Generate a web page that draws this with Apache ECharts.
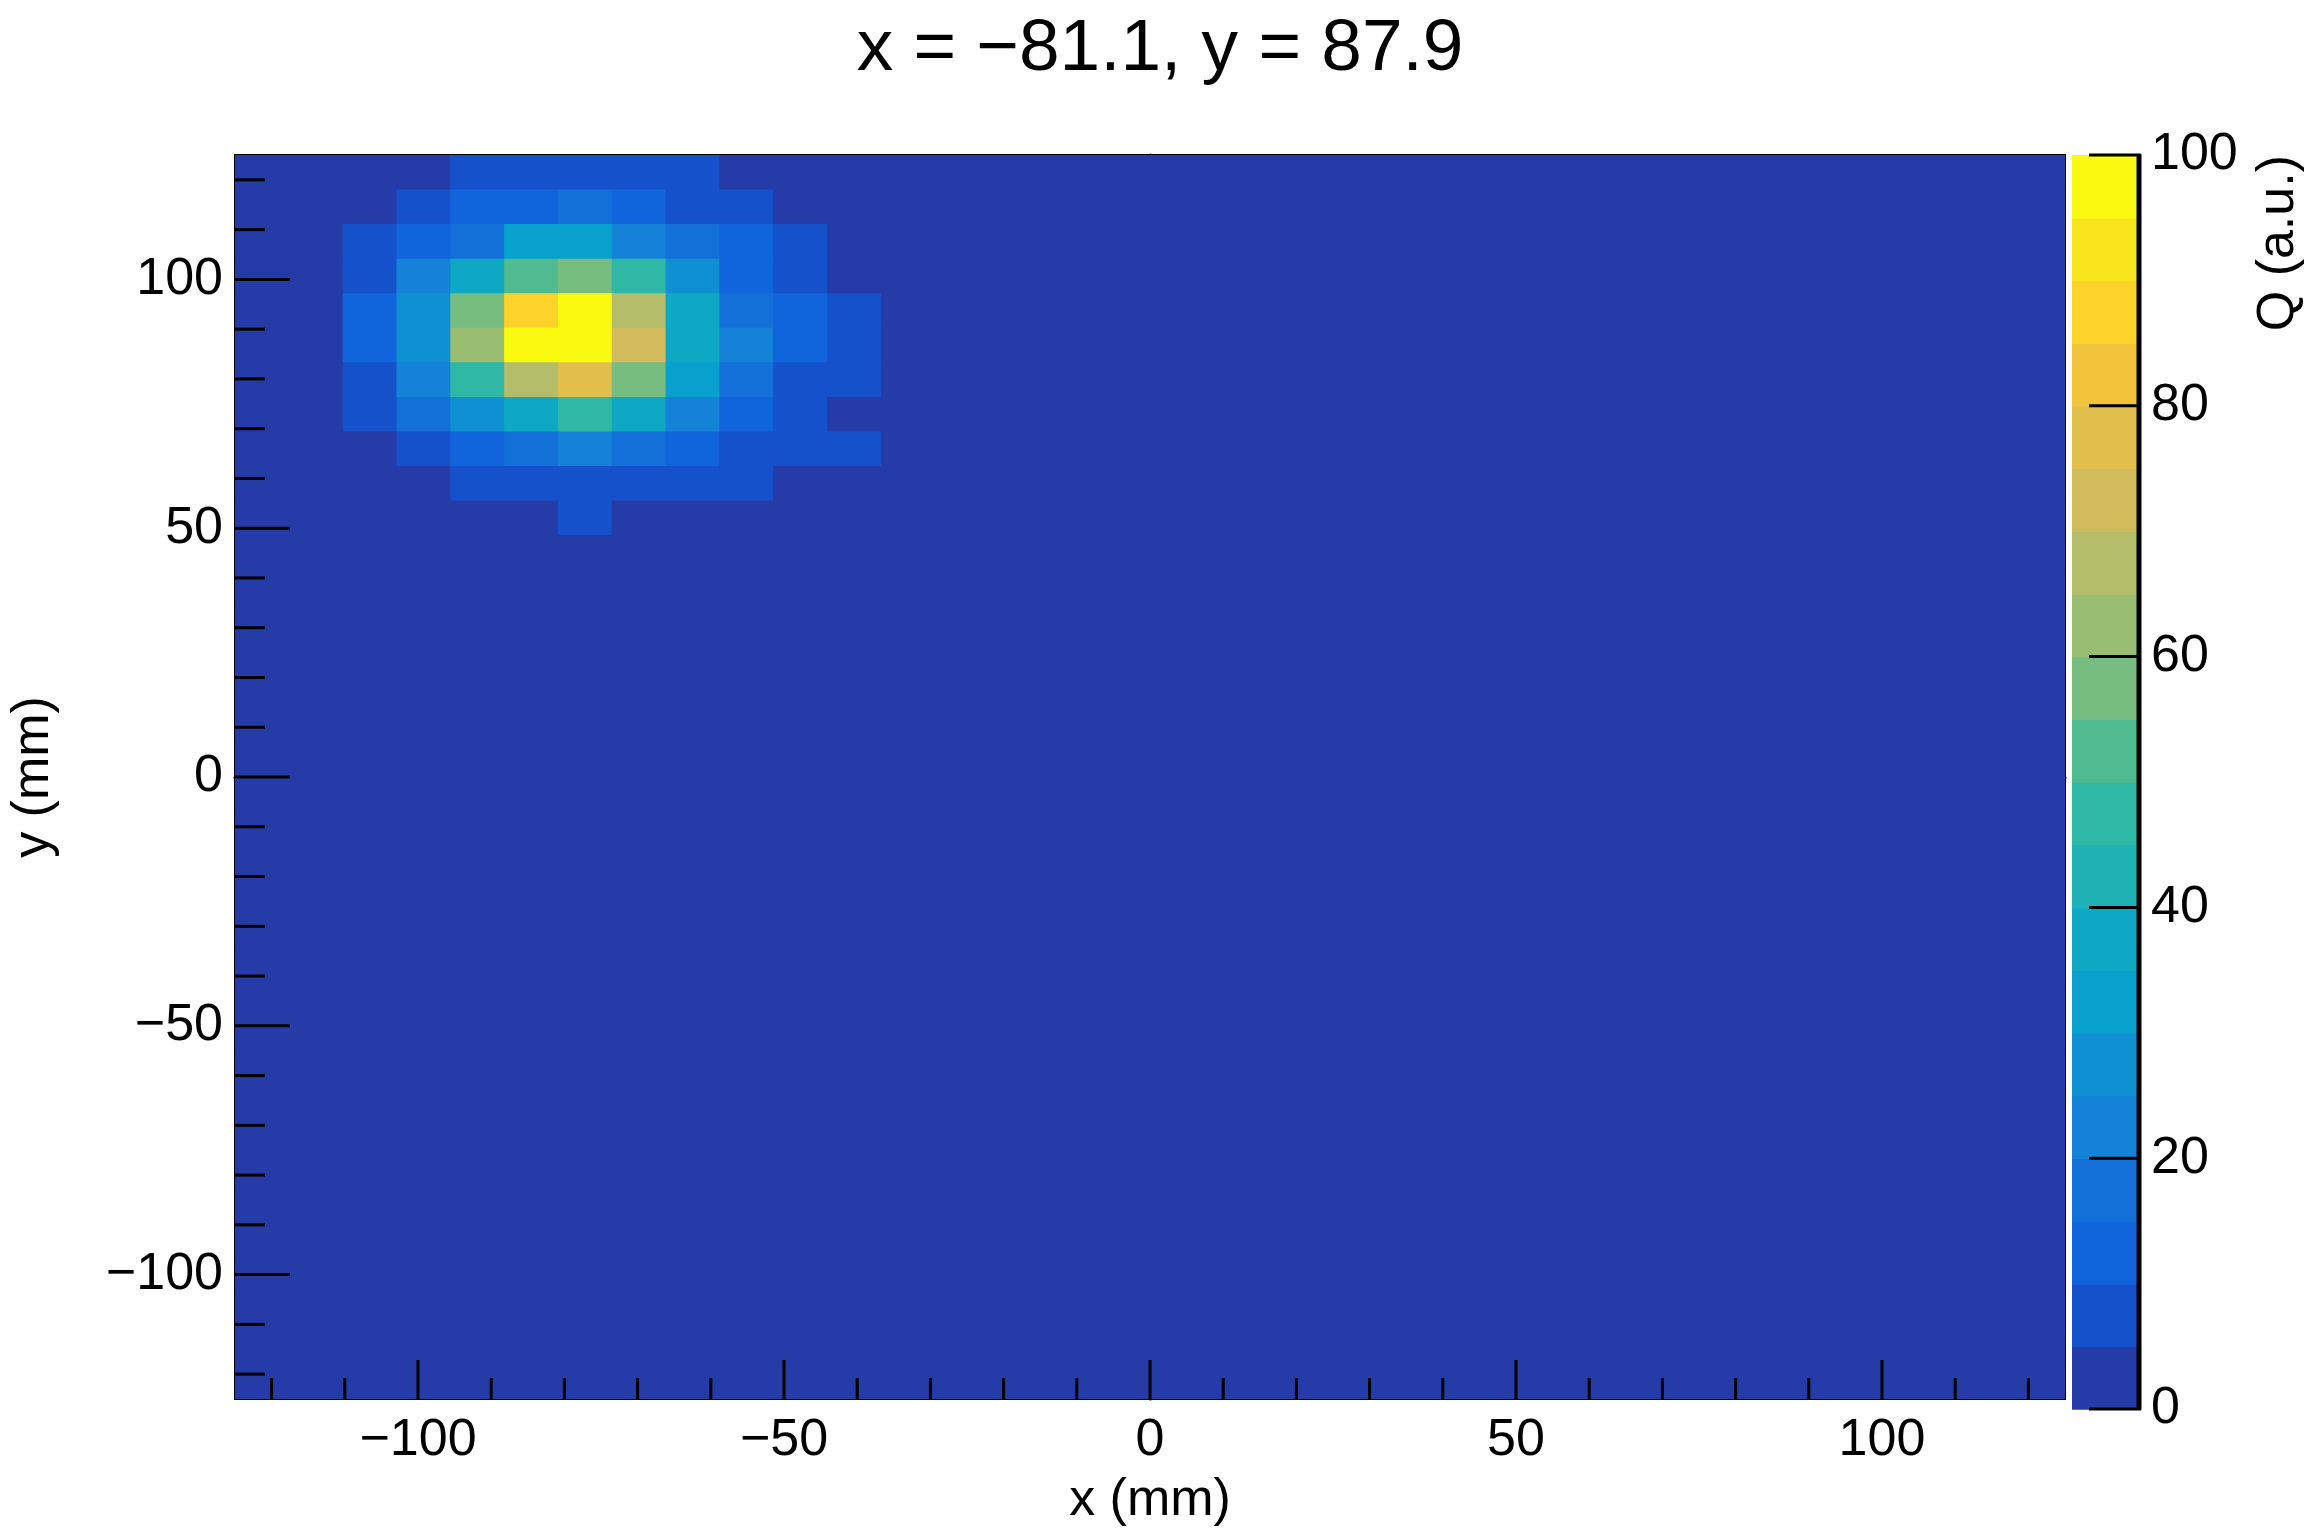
<!DOCTYPE html>
<html><head><meta charset="utf-8">
<script src="https://cdn.jsdelivr.net/npm/echarts@6/dist/echarts.min.js"></script>
<style>html,body{margin:0;padding:0;background:#fff}#c{width:2319px;height:1532px}</style>
</head><body><div id="c"></div>
<script>
const TITLE = 'x = \u221281.1, y = 87.9';
const X_RANGE = [-125, 125];
const Y_RANGE = [-125, 125];
const NX = 34, NY = 36;
// Rows from top (y = 125 downward), columns from left (x = -125)
const hotRows = [
  [0,0,0,0,7,7,7,7,7,0,0,0],
  [0,0,0,7,12,12,17,12,7,7,0,0],
  [0,0,7,12,17,32,32,22,17,12,7,0],
  [0,0,7,22,37,52,57,47,27,12,7,0],
  [0,0,12,27,57,87,97,67,37,17,12,7],
  [0,0,12,27,62,97,97,72,37,22,12,7],
  [0,0,7,22,47,67,77,57,32,17,7,7],
  [0,0,7,17,27,37,47,37,22,12,7,0],
  [0,0,0,7,12,17,22,17,12,7,7,7],
  [0,0,0,0,7,7,7,7,7,7,0,0],
  [0,0,0,0,0,0,7,0,0,0,0,0]
];
const paletteColors = ['#253ba8','#1651cc','#1064dc','#1370d8','#1482d6','#0e90d2','#08a0cc','#0fa8c4','#1fb2b4','#2fb8a6',
  '#50ba90','#77bd80','#99be72','#b4bd6a','#d2bb5c','#e2bf4c','#f2c43c','#fcd22b','#fae41e','#f9fa0f'];
const xTicks = [], yTicks = [];
for (let v = -120; v <= 120; v += 10) { xTicks.push(v); yTicks.push(v); }
const barLevels = paletteColors.map((c, i) => i * 5);
const zTicks = [0, 20, 40, 60, 80, 100];

const dx = (X_RANGE[1]-X_RANGE[0])/NX, dy = (Y_RANGE[1]-Y_RANGE[0])/NY;
const cells = [];
for (let j = 0; j < NY; j++) for (let i = 0; i < NX; i++) {
  const v = (hotRows[j] && hotRows[j][i] != null) ? hotRows[j][i] : 0;
  cells.push([X_RANGE[0] + (i+0.5)*dx, Y_RANGE[1] - (j+0.5)*dy, v]);
}
const pieces = paletteColors.map((c, i) => ({gte: i*5, lt: i*5+5, color: c}));
pieces[pieces.length-1].lte = 100; delete pieces[pieces.length-1].lt;

const FONT = 'Liberation Sans';
const FS = 52;
const minus = v => String(v).replace('-', '\u2212');
const chart = echarts.init(document.getElementById('c'), null, {renderer: 'canvas'});
chart.setOption({
  animation: false,
  backgroundColor: '#fff',
  title: {text: TITLE, left: 1155, top: 8, textAlign: 'center',
    textStyle: {fontFamily: FONT, fontSize: 73, fontWeight: 'normal', color: '#000'}},
  graphic: [{type: 'text', x: 2305, y: 155, rotation: Math.PI/2,
    style: {text: 'Q (a.u.)', fontFamily: FONT, fontSize: FS, fill: '#000', textAlign: 'right', textVerticalAlign: 'bottom'}}],
  visualMap: {type: 'piecewise', show: false, dimension: 2, seriesIndex: [0, 3], pieces: pieces},
  grid: [
    {left: 230, top: 155, width: 1835, height: 1254, show: true, borderColor: '#000', borderWidth: 2, backgroundColor: paletteColors[0]},
    {left: 2072, top: 155, width: 69, height: 1254, show: false}
  ],
  xAxis: [
    {type: 'value', gridIndex: 0, min: -125, max: 125, interval: 5,
     axisLine: {show: true, lineStyle: {color: '#000', width: 3}}, axisTick: {show: false}, splitLine: {show: false},
     axisLabel: {interval: 0, margin: 16, fontFamily: FONT, fontSize: FS, color: '#000',
       formatter: v => (Math.round(v) % 50 === 0 && Math.abs(v) < 125) ? minus(Math.round(v)) : ''},
     name: 'x (mm)', nameLocation: 'middle', nameGap: 76, nameTextStyle: {fontFamily: FONT, fontSize: FS, color: '#000'}},
    {type: 'value', gridIndex: 1, min: 0, max: 1, show: false}
  ],
  yAxis: [
    {type: 'value', gridIndex: 0, min: -125, max: 125, interval: 5,
     axisLine: {show: true, lineStyle: {color: '#000', width: 3}}, axisTick: {show: false}, splitLine: {show: false},
     axisLabel: {interval: 0, margin: 12, fontFamily: FONT, fontSize: FS, color: '#000',
       formatter: v => (Math.round(v) % 50 === 0 && Math.abs(v) < 125) ? minus(Math.round(v)) : ''},
     name: 'y (mm)', nameLocation: 'middle', nameGap: 175, nameTextStyle: {fontFamily: FONT, fontSize: FS, color: '#000'}},
    {type: 'value', gridIndex: 1, position: 'right', min: 0, max: 100, interval: 20,
     axisLine: {show: false}, axisTick: {show: false}, splitLine: {show: false},
     axisLabel: {margin: 10, fontFamily: FONT, fontSize: FS, color: '#000'}}
  ],
  series: [
    {type: 'custom', xAxisIndex: 0, yAxisIndex: 0, data: cells, clip: true,
     renderItem: (params, api) => {
       const x = api.value(0), y = api.value(1);
       const p1 = api.coord([x - dx/2, y + dy/2]), p2 = api.coord([x + dx/2, y - dy/2]);
       return {type: 'rect', shape: {x: p1[0], y: p1[1], width: p2[0]-p1[0]+1, height: p2[1]-p1[1]+1},
         style: {fill: api.visual('color')}};
     }},
    {type: 'custom', xAxisIndex: 0, yAxisIndex: 0, data: xTicks.map(v => [v]), z: 5,
     renderItem: (params, api) => {
       const v = api.value(0);
       const p = api.coord([v, -125]);
       const len = (v % 50 === 0) ? 39 : 21;
       return {type: 'line', shape: {x1: p[0], y1: p[1], x2: p[0], y2: p[1]-len}, style: {stroke: '#000', lineWidth: 3}};
     }},
    {type: 'custom', xAxisIndex: 0, yAxisIndex: 0, data: yTicks.map(v => [v]), z: 5,
     renderItem: (params, api) => {
       const v = api.value(0);
       const p = api.coord([-125, v]);
       const len = (v % 50 === 0) ? 55 : 30;
       return {type: 'line', shape: {x1: p[0], y1: p[1], x2: p[0]+len, y2: p[1]}, style: {stroke: '#000', lineWidth: 3}};
     }},
    {type: 'custom', xAxisIndex: 1, yAxisIndex: 1, data: barLevels.map(v => [0, v, v + 2.5]),
     renderItem: (params, api) => {
       const lo = api.value(1);
       const p1 = api.coord([0, lo + 5]), p2 = api.coord([1, lo]);
       return {type: 'rect', shape: {x: p1[0], y: p1[1], width: p2[0]-p1[0], height: p2[1]-p1[1]+0.8},
         style: {fill: api.visual('color')}};
     }, encode: {x: 0, y: 1}},
    {type: 'custom', xAxisIndex: 1, yAxisIndex: 1, data: zTicks.map(v => [1, v]), z: 5,
     renderItem: (params, api) => {
       const p = api.coord([1, api.value(1)]);
       return {type: 'line', shape: {x1: p[0]-52, y1: p[1], x2: p[0], y2: p[1]}, style: {stroke: '#000', lineWidth: 3}};
     }, encode: {x: 0, y: 1}},
    {type: 'custom', xAxisIndex: 1, yAxisIndex: 1, data: [[1, 0, 100]], z: 5,
     renderItem: (params, api) => {
       const a = api.coord([1, api.value(1)]), b = api.coord([1, api.value(2)]);
       return {type: 'line', shape: {x1: a[0]-2, y1: a[1]+1, x2: b[0]-2, y2: b[1]-1}, style: {stroke: '#000', lineWidth: 5}};
     }, encode: {x: 0, y: 1}}
  ]
});
</script></body></html>
